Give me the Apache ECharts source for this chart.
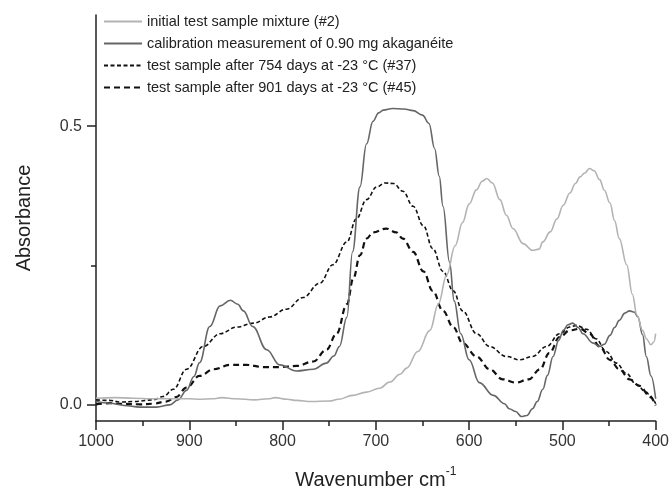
<!DOCTYPE html>
<html>
<head>
<meta charset="utf-8">
<script src="https://cdn.jsdelivr.net/npm/echarts@6/dist/echarts.min.js"></script>
<style>
html,body{margin:0;padding:0;background:#fff;}
#chart{width:672px;height:495px;}
</style>
</head>
<body>
<div id="chart"></div>
<script>
// ---- data ----
const seriesNames = [
  'initial test sample mixture (#2)',
  'calibration measurement of 0.90 mg akaganéite',
  'test sample after 754 days at -23 °C (#37)',
  'test sample after 901 days at -23 °C (#45)'
];

const wnInitial = [1000, 980, 960, 940, 920, 900, 889, 875, 865, 850, 830, 815, 808, 795, 785, 769, 750, 740, 725, 710, 696, 685, 674, 667, 655, 642, 633, 624, 615, 607, 600, 592, 586, 581, 575, 567, 560, 553, 542, 532, 525, 521, 513, 506, 499, 492, 486, 481, 476, 471, 466, 460, 455, 449, 444, 439, 431, 425, 420, 414, 410, 405, 402, 400];
const absInitial = [0.011, 0.012, 0.011, 0.010, 0.010, 0.010, 0.009, 0.010, 0.012, 0.010, 0.008, 0.010, 0.012, 0.009, 0.007, 0.005, 0.006, 0.009, 0.016, 0.022, 0.029, 0.040, 0.054, 0.065, 0.095, 0.133, 0.180, 0.233, 0.285, 0.327, 0.360, 0.386, 0.401, 0.406, 0.398, 0.368, 0.340, 0.316, 0.289, 0.277, 0.279, 0.292, 0.310, 0.333, 0.358, 0.380, 0.397, 0.409, 0.416, 0.424, 0.420, 0.404, 0.385, 0.362, 0.330, 0.298, 0.251, 0.198, 0.160, 0.133, 0.118, 0.107, 0.112, 0.127];

const wnCalib = [1000, 985, 970, 953, 935, 921, 912, 903, 895, 889, 878, 867, 856, 848, 842, 832, 817, 803, 785, 767, 753, 745, 739, 731, 725, 717, 710, 703, 697, 692, 682, 670, 660, 650, 643, 637, 632, 628, 621, 616, 609, 600, 589, 574, 562, 557, 550, 544, 538, 532, 527, 521, 516, 510, 504, 499, 494, 489, 483, 478, 467, 460, 455, 449, 444, 439, 433, 428, 423, 419, 414, 410, 405, 400];
const absCalib = [0.005, 0.002, -0.002, -0.005, -0.005, -0.001, 0.008, 0.025, 0.050, 0.075, 0.140, 0.177, 0.187, 0.180, 0.168, 0.140, 0.098, 0.071, 0.060, 0.063, 0.074, 0.087, 0.104, 0.157, 0.274, 0.391, 0.468, 0.509, 0.524, 0.529, 0.532, 0.531, 0.528, 0.520, 0.505, 0.460, 0.410, 0.356, 0.256, 0.186, 0.127, 0.080, 0.039, 0.016, 0.001, -0.008, -0.013, -0.022, -0.020, -0.008, 0.005, 0.027, 0.052, 0.086, 0.115, 0.133, 0.143, 0.146, 0.138, 0.127, 0.110, 0.104, 0.108, 0.124, 0.138, 0.151, 0.164, 0.168, 0.166, 0.157, 0.125, 0.086, 0.051, 0.010];

const wn754 = [1000, 985, 974, 960, 939, 928, 917, 903, 885, 867, 849, 831, 814, 796, 778, 760, 746, 731, 721, 710, 699, 690, 681, 671, 660, 649, 639, 628, 617, 607, 592, 578, 560, 546, 532, 517, 503, 492, 485, 474, 464, 453, 442, 431, 421, 410, 405, 400];
const abs754 = [0.008, 0.007, 0.004, 0.005, 0.008, 0.014, 0.027, 0.063, 0.104, 0.127, 0.139, 0.146, 0.157, 0.171, 0.192, 0.218, 0.251, 0.292, 0.333, 0.368, 0.391, 0.398, 0.397, 0.383, 0.356, 0.321, 0.280, 0.239, 0.204, 0.168, 0.127, 0.104, 0.086, 0.080, 0.086, 0.104, 0.127, 0.139, 0.142, 0.135, 0.118, 0.095, 0.074, 0.055, 0.036, 0.022, 0.012, 0.001];

const wn901 = [1000, 985, 974, 953, 939, 925, 914, 903, 889, 874, 856, 839, 821, 803, 785, 767, 753, 742, 731, 724, 717, 710, 703, 689, 678, 671, 660, 649, 639, 628, 617, 607, 592, 578, 564, 550, 536, 524, 514, 503, 492, 481, 471, 460, 449, 439, 428, 417, 407, 400];
const abs901 = [0.000, 0.002, 0.001, 0.000, 0.001, 0.005, 0.013, 0.030, 0.051, 0.063, 0.071, 0.071, 0.067, 0.067, 0.069, 0.077, 0.098, 0.127, 0.180, 0.227, 0.268, 0.298, 0.309, 0.316, 0.309, 0.298, 0.274, 0.239, 0.204, 0.168, 0.139, 0.110, 0.086, 0.063, 0.045, 0.039, 0.045, 0.063, 0.092, 0.121, 0.133, 0.136, 0.127, 0.104, 0.080, 0.063, 0.045, 0.033, 0.016, -0.002];

const yLabelValues = [0, 0.5];
const yMinorTickValues = [0.25];

// ---- chart ----
const FONT = '"Liberation Sans", Arial, Helvetica, sans-serif';
const zip = (xs, ys) => xs.map((x, i) => [x, ys[i]]);

const styles = [
  {color: '#b3b3b3', width: 1.6, type: 'solid'},
  {color: '#666666', width: 1.6, type: 'solid'},
  {color: '#111111', width: 1.6, type: [4, 2.5]},
  {color: '#111111', width: 2.2, type: [6, 4]}
];
const datasets = [zip(wnInitial, absInitial), zip(wnCalib, absCalib), zip(wn754, abs754), zip(wn901, abs901)];

const chart = echarts.init(document.getElementById('chart'), null, {renderer: 'canvas'});
chart.setOption({
  animation: false,
  backgroundColor: '#ffffff',
  textStyle: {fontFamily: FONT},
  grid: {left: 96, right: 16, top: 15, bottom: 66, containLabel: false},
  legend: {
    data: seriesNames,
    orient: 'vertical',
    left: 103,
    top: 14,
    padding: 0,
    itemWidth: 38,
    itemHeight: 14,
    itemGap: 7,
    itemStyle: {opacity: 0},
    textStyle: {fontSize: 14.5, color: '#222', fontFamily: FONT}
  },
  xAxis: {
    type: 'value',
    inverse: true,
    min: 400,
    max: 1000,
    interval: 100,
    name: '{a|Wavenumber cm}{s|-1}',
    nameLocation: 'middle',
    nameGap: 45,
    nameTextStyle: {
      rich: {
        a: {fontSize: 20, color: '#222', fontFamily: FONT, lineHeight: 24, verticalAlign: 'bottom'},
        s: {fontSize: 12, color: '#222', fontFamily: FONT, lineHeight: 12, verticalAlign: 'top'}
      }
    },
    axisLine: {show: true, onZero: false, lineStyle: {color: '#222', width: 1.5}},
    axisTick: {show: true, length: 9, lineStyle: {color: '#222', width: 1.5}},
    minorTick: {show: true, splitNumber: 2, length: 5, lineStyle: {color: '#222', width: 1.5}},
    axisLabel: {fontSize: 16, color: '#333', margin: 13, fontFamily: FONT,
      formatter: v => String(v)},
    splitLine: {show: false},
    minorSplitLine: {show: false}
  },
  yAxis: [{
    type: 'value',
    min: -0.03,
    max: 0.70,
    name: 'Absorbance',
    nameLocation: 'middle',
    nameGap: 62,
    nameTextStyle: {fontSize: 20, color: '#222', fontFamily: FONT},
    axisLine: {show: true, onZero: false, lineStyle: {color: '#222', width: 1.5}},
    axisTick: {show: true, length: 9, customValues: yLabelValues, lineStyle: {color: '#222', width: 1.5}},
    axisLabel: {customValues: yLabelValues, fontSize: 16, color: '#333', margin: 14, fontFamily: FONT,
      formatter: v => Number(v).toFixed(1)},
    splitLine: {show: false}
  }, {
    type: 'value',
    min: -0.03,
    max: 0.70,
    position: 'left',
    axisLine: {show: false, onZero: false},
    axisTick: {show: true, length: 5, customValues: yMinorTickValues, lineStyle: {color: '#222', width: 1.5}},
    axisLabel: {show: false},
    splitLine: {show: false}
  }],
  series: seriesNames.map((name, i) => ({
    name: name,
    type: 'line',
    yAxisIndex: 0,
    data: datasets[i],
    symbol: 'none',
    showSymbol: false,
    smooth: 0.4,
    smoothMonotone: 'x',
    z: 10 - i,
    itemStyle: {color: styles[i].color},
    lineStyle: {color: styles[i].color, width: styles[i].width, type: styles[i].type}
  }))
});
</script>
</body>
</html>
